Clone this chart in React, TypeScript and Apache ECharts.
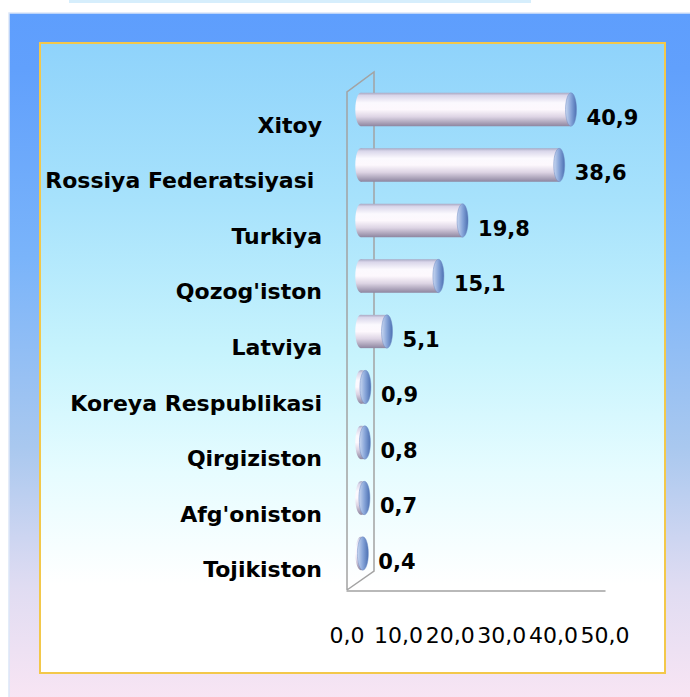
import React, { useEffect, useRef } from "react";
import * as echarts from "echarts";

const categories = [
  "Xitoy",
  "Rossiya Federatsiyasi ",
  "Turkiya",
  "Qozog'iston",
  "Latviya",
  "Koreya Respublikasi",
  "Qirgiziston",
  "Afg'oniston",
  "Tojikiston",
];
const values = [40.9, 38.6, 19.8, 15.1, 5.1, 0.9, 0.8, 0.7, 0.4];
const axisMin = 0;
const axisMax = 50;
const axisStep = 10;

const FONT = "DejaVu Sans";
const fmt = (v: number) => v.toFixed(1).replace(".", ",");

export default function App() {
  const ref = useRef<HTMLDivElement>(null);
  useEffect(() => {
    if (!ref.current) return;
    const chart = echarts.init(ref.current, undefined, { renderer: "svg" });
    const G = echarts.graphic;
    const bodyGrad = new G.LinearGradient(0, 0, 0, 1, [
      { offset: 0, color: "#a9a9c4" },
      { offset: 0.08, color: "#d9d6ea" },
      { offset: 0.3, color: "#fbf9fe" },
      { offset: 0.5, color: "#fdf8fd" },
      { offset: 0.72, color: "#ddd4e4" },
      { offset: 1, color: "#8e86a0" },
    ]);
    const capGrad = new G.LinearGradient(0, 0, 1, 0, [
      { offset: 0, color: "#c9d7f0" },
      { offset: 0.5, color: "#86a4d8" },
      { offset: 1, color: "#4c70b2" },
    ]);

    const data = values.map((v, i) => [v, i]);

    chart.setOption({
      animation: false,
      backgroundColor: "#ffffff",
      graphic: {
        elements: [
          {
            type: "rect",
            z: -100,
            shape: { x: 69, y: 0, width: 462, height: 3 },
            style: { fill: "#d6eefc" },
          },
          {
            type: "rect",
            z: -99,
            shape: { x: 9, y: 13, width: 690, height: 700 },
            style: {
              fill: new G.LinearGradient(0, 0, 0, 1, [
                { offset: 0, color: "#5e9efd" },
                { offset: 0.08, color: "#61a0fc" },
                { offset: 0.35, color: "#7ab4fa" },
                { offset: 0.62, color: "#a9c8ef" },
                { offset: 0.82, color: "#e0dcf2" },
                { offset: 1, color: "#fbe6f4" },
              ]),
              stroke: "#dbe6f7",
              lineWidth: 1.5,
            },
          },
          {
            type: "rect",
            z: -98,
            shape: { x: 40, y: 43, width: 625, height: 630 },
            style: {
              fill: new G.LinearGradient(0, 0, 0, 1, [
                { offset: 0, color: "#8fd3fb" },
                { offset: 0.25, color: "#a7e2fc" },
                { offset: 0.5, color: "#c8f4fd" },
                { offset: 0.68, color: "#e6fcff" },
                { offset: 0.86, color: "#ffffff" },
                { offset: 1, color: "#ffffff" },
              ]),
              stroke: "#f3c84a",
              lineWidth: 2,
            },
          },
          {
            type: "polyline",
            z: 1,
            shape: {
              points: [
                [347, 590],
                [347, 92],
                [374, 72],
                [374, 571],
                [347, 590],
              ],
            },
            style: { stroke: "#a3a3a3", lineWidth: 1.5, fill: "none" },
          },
        ],
      },
      grid: [
        { left: 360.8, top: 81.75, width: 257, height: 499.5 },
        { left: 347, top: 97.2, width: 258, height: 500.4 },
      ],
      xAxis: [
        {
          gridIndex: 0,
          type: "value",
          min: axisMin,
          max: axisMax,
          interval: axisStep,
          show: false,
        },
        {
          gridIndex: 1,
          type: "value",
          min: axisMin,
          max: axisMax,
          interval: axisStep,
          offset: -7,
          axisLine: { show: true, lineStyle: { color: "#a3a3a3", width: 1.5 } },
          axisTick: { show: false },
          splitLine: { show: false },
          axisLabel: {
            formatter: (v: number) => fmt(v),
            color: "#000",
            fontSize: 22,
            fontFamily: FONT,
            margin: 34,
          },
        },
      ],
      yAxis: [
        {
          gridIndex: 0,
          type: "category",
          inverse: true,
          data: categories,
          show: false,
        },
        {
          gridIndex: 1,
          type: "category",
          inverse: true,
          data: categories,
          axisLine: { show: false },
          axisTick: { show: false },
          axisLabel: {
            color: "#000",
            fontSize: 22,
            fontWeight: "bold",
            fontFamily: FONT,
            margin: 25,
          },
        },
      ],
      series: [
        {
          type: "custom",
          xAxisIndex: 0,
          yAxisIndex: 0,
          z: 3,
          encode: { x: 0, y: 1 },
          data,
          renderItem: (params: any, api: any) => {
            const v = api.value(0);
            const c = api.value(1);
            const p0 = api.coord([0, c]);
            const p1 = api.coord([v, c]);
            const h = api.size([0, 1])[1] * 0.6;
            const rx = 5.5;
            return {
              type: "group",
              children: [
                {
                  type: "ellipse",
                  shape: { cx: p0[0], cy: p0[1], rx, ry: h / 2 },
                  style: { fill: bodyGrad },
                },
                {
                  type: "rect",
                  shape: { x: p0[0], y: p0[1] - h / 2, width: p1[0] - p0[0], height: h },
                  style: { fill: bodyGrad },
                },
                {
                  type: "ellipse",
                  shape: { cx: p1[0], cy: p1[1], rx, ry: h / 2 },
                  style: { fill: capGrad, stroke: "#6f8cc4", lineWidth: 0.5 },
                },
                {
                  type: "text",
                  x: p1[0] + rx + 10,
                  y: p1[1] + 8,
                  style: {
                    text: fmt(v),
                    fill: "#000",
                    fontSize: 21,
                    fontWeight: "bold",
                    fontFamily: FONT,
                    verticalAlign: "middle",
                    align: "left",
                  },
                },
              ],
            };
          },
        },
      ],
    });
    return () => chart.dispose();
  }, []);
  return (
    <div
      ref={ref}
      style={{ position: "absolute", left: 0, top: 0, width: 690, height: 697 }}
    />
  );
}
